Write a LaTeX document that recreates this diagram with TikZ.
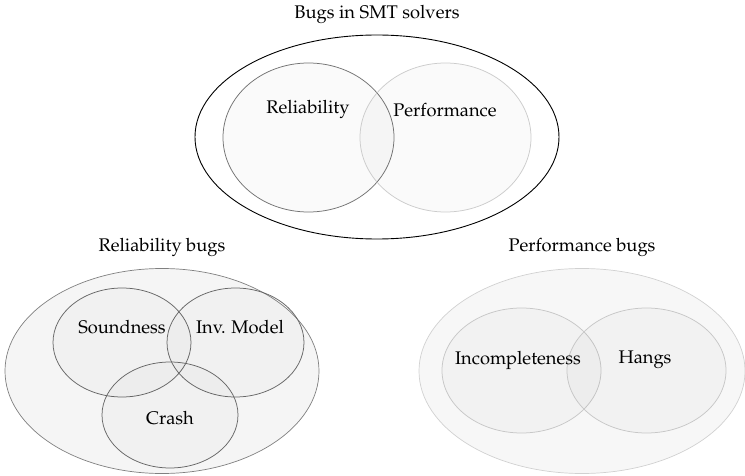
\documentclass[tikz,border=0pt]{standalone}
\usepackage[T1]{fontenc}
\usepackage{mathpazo}
\usetikzlibrary{shapes.geometric}
\begin{document}
\begin{tikzpicture}[x=1pt,y=-1pt,
  ell/.style={ellipse, inner sep=0pt, outer sep=0pt},
  txt/.style={font=\fontsize{18.3}{21}\selectfont, inner sep=0pt, anchor=center},
  venn/.style={ell, fill=black, fill opacity=0.02, line width=0.75pt}
]
\useasboundingbox (0,0) rectangle (745,476);
% top
\node[ell, draw=black, line width=0.9pt, fill=white, minimum width=364pt, minimum height=204pt] (outer) at (377,137) {};
\node[venn, draw=black!55, minimum width=171pt, minimum height=149pt] (rel) at (308.5,137.5) {};
\node[venn, draw=black!20, minimum width=171pt, minimum height=149pt] (perf) at (445.5,137.5) {};
\node[txt] (title) at (377,14) {Bugs in SMT solvers};
\node[txt] (treltxt) at (308,109) {Reliability};
\node[txt] (tperftxt) at (445,110) {Performance};
% bottom left
\node[ell, draw=black!50, line width=0.7pt, fill=black!4, minimum width=314pt, minimum height=205pt] (relouter) at (162,371) {};
\node[venn, fill opacity=0.015, draw=black!60, minimum width=138pt, minimum height=109pt] (sound) at (122,342.5) {};
\node[venn, fill opacity=0.015, draw=black!60, minimum width=137pt, minimum height=109pt] (inv) at (235.5,342.5) {};
\node[venn, fill opacity=0.015, draw=black!60, minimum width=136pt, minimum height=106pt] (crash) at (170,415) {};
\node[txt] (reltitle) at (162,247) {Reliability bugs};
\node[txt] (soundtxt) at (122,327) {Soundness};
\node[txt] (invtxt) at (240,327) {Inv. Model};
\node[txt] (crashtxt) at (170,418) {Crash};
% bottom right
\node[ell, draw=black!18, line width=0.7pt, fill=black!3, minimum width=326pt, minimum height=205pt] (perfouter) at (582,371) {};
\node[venn, draw=black!22, minimum width=159pt, minimum height=125pt] (incomp) at (521.5,370.5) {};
\node[venn, draw=black!22, minimum width=159pt, minimum height=125pt] (hangs) at (646.5,370.5) {};
\node[txt] (perftitle) at (582,247) {Performance bugs};
\node[txt] (incomptxt) at (518,360) {Incompleteness};
\node[txt] (hangstxt) at (645,360) {Hangs};
\end{tikzpicture}
\end{document}
